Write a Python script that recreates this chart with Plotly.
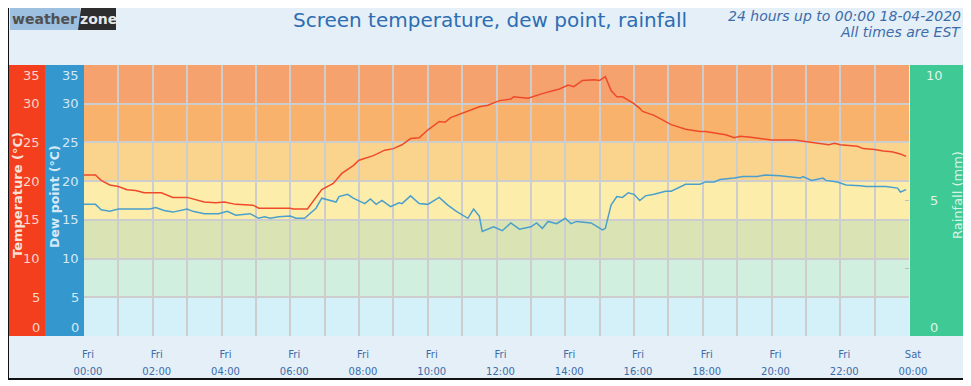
import plotly.graph_objects as go
import pandas as pd

# ---------------- data ----------------
DAY = "2020-04-17 "

temp_times = ["00:00", "00:20", "00:30", "00:45", "01:00", "01:15", "01:30", "01:45", "02:15", "02:35",
              "03:00", "03:30", "03:50", "04:05", "04:25", "04:55", "05:05", "06:00", "06:05", "06:30",
              "06:55", "07:15", "07:30", "07:50", "08:00", "08:25", "08:45", "09:00", "09:15", "09:30",
              "09:45", "10:00", "10:20", "10:30", "10:40", "11:00", "11:20", "11:30", "11:45", "12:05",
              "12:25", "12:30", "12:55", "13:10", "13:20", "13:40", "13:50", "14:05", "14:15", "14:30",
              "14:50", "15:00", "15:10", "15:20", "15:30", "15:40", "16:00", "16:10", "16:15", "16:35",
              "16:55", "17:05", "17:30", "17:55", "18:05", "18:30", "18:40", "18:55", "19:05", "19:20",
              "19:50", "20:00", "20:40", "21:00", "21:15", "21:40", "21:50", "22:00", "22:30", "22:40",
              "23:00", "23:15", "23:30", "23:45", "23:55"]
temp_values = [20.8, 20.8, 20.1, 19.5, 19.3, 18.9, 18.8, 18.5, 18.5, 17.9,
               17.9, 17.3, 17.2, 17.3, 17.0, 16.9, 16.5, 16.5, 16.4, 16.4,
               18.9, 19.7, 21.0, 22.0, 22.7, 23.3, 24.0, 24.2, 24.7, 25.5,
               25.6, 26.6, 27.7, 27.6, 28.2, 28.8, 29.4, 29.6, 29.8, 30.4,
               30.6, 30.9, 30.7, 31.1, 31.3, 31.7, 31.9, 32.4, 32.2, 33.0,
               33.1, 33.0, 33.5, 31.7, 30.9, 30.9, 30.0, 29.4, 29.0, 28.5,
               27.7, 27.3, 26.7, 26.4, 26.4, 26.1, 26.0, 25.6, 25.8, 25.7,
               25.4, 25.3, 25.3, 25.1, 24.9, 24.7, 24.9, 24.7, 24.5, 24.2,
               24.1, 23.9, 23.8, 23.5, 23.2]

dew_times = ["00:00", "00:20", "00:30", "00:45", "01:00", "01:55", "02:05", "02:20", "02:35", "03:00",
             "03:10", "03:30", "03:55", "04:10", "04:25", "04:50", "05:05", "05:15", "05:25", "05:40",
             "06:00", "06:10", "06:25", "06:45", "06:55", "07:20", "07:25", "07:40", "07:50", "08:10",
             "08:20", "08:30", "08:40", "08:55", "09:10", "09:15", "09:30", "09:45", "10:00", "10:05",
             "10:20", "10:35", "10:50", "11:10", "11:20", "11:30", "11:35", "11:55", "12:10", "12:25",
             "12:40", "13:00", "13:10", "13:20", "13:30", "13:45", "14:00", "14:10", "14:20", "14:45",
             "15:05", "15:10", "15:20", "15:30", "15:40", "15:50", "16:00", "16:10", "16:20", "16:35",
             "16:55", "17:05", "17:30", "17:55", "18:05", "18:20", "18:30", "18:55", "19:10", "19:35",
             "19:50", "20:15", "20:25", "20:50", "20:55", "21:10", "21:30", "21:35", "21:55", "22:10",
             "22:35", "22:45", "23:20", "23:40", "23:45", "23:55"]
dew_values = [17.0, 17.0, 16.3, 16.1, 16.4, 16.4, 16.6, 16.2, 16.0, 16.4,
              16.1, 15.8, 15.8, 16.1, 15.6, 15.8, 15.2, 15.4, 15.2, 15.4,
              15.5, 15.2, 15.2, 16.5, 17.8, 17.3, 18.0, 18.3, 17.8, 17.1,
              17.7, 17.0, 17.5, 16.7, 17.2, 17.1, 18.1, 17.1, 17.0, 17.2,
              17.9, 16.9, 16.1, 15.2, 16.4, 15.5, 13.5, 14.1, 13.6, 14.6,
              13.8, 14.1, 14.6, 13.9, 14.8, 14.5, 15.2, 14.5, 14.8, 14.6,
              13.7, 13.9, 16.9, 18.0, 17.9, 18.5, 18.3, 17.5, 18.1, 18.3,
              18.7, 18.7, 19.6, 19.6, 19.9, 19.9, 20.2, 20.4, 20.6, 20.6,
              20.8, 20.7, 20.6, 20.4, 20.6, 20.1, 20.4, 20.1, 19.9, 19.5,
              19.4, 19.3, 19.3, 19.1, 18.6, 18.9]

rain_times = []
rain_values = []

band_edges = [0, 5, 10, 15, 20, 25, 30, 35]
band_colors = ["#D4F1F9", "#D0EFDF", "#D9E3B4", "#FCEEAA", "#FAD38D", "#F8B26C", "#F6A26F"]

temp_ticks = [0, 5, 10, 15, 20, 25, 30, 35]
rain_ticks = [0, 5, 10]
rain_minor_ticks = [2.5, 5, 7.5]

x_tick_times = ["2020-04-17 00:00", "2020-04-17 02:00", "2020-04-17 04:00", "2020-04-17 06:00",
                "2020-04-17 08:00", "2020-04-17 10:00", "2020-04-17 12:00", "2020-04-17 14:00",
                "2020-04-17 16:00", "2020-04-17 18:00", "2020-04-17 20:00", "2020-04-17 22:00",
                "2020-04-18 00:00"]
x_tick_days = ["Fri"] * 12 + ["Sat"]
x_tick_clock = ["00:00", "02:00", "04:00", "06:00", "08:00", "10:00", "12:00", "14:00",
                "16:00", "18:00", "20:00", "22:00", "00:00"]
grid_hours = [t.strftime("%Y-%m-%d %H:%M") for t in
              pd.date_range("2020-04-17 00:00", "2020-04-18 00:00", freq="1h")]

title_text = "Screen temperature, dew point, rainfall"
sub1 = "24 hours up to 00:00 18-04-2020"
sub2 = "All times are EST"

# ---------------- geometry helpers (screen pixel coordinates) ----------------
OFF = 8                     # page body margin of the html document
FW, FH = 971 - OFF, 386 - OFF
L, R, T, B = 84, 909, 65, 336


def px(x):
    return (x - L) / (R - L)


def py(y):
    return (B - y) / (B - T)


FONT = "DejaVu Sans"
LABEL_BLUE = "#3D6CA9"


def note(text, x, y, size, color, xanchor="center", angle=0):
    return dict(text=text, x=px(x), y=py(y), xref="paper", yref="paper", xanchor=xanchor,
                yanchor="middle", textangle=angle, showarrow=False,
                font=dict(family=FONT, size=size, color=color))


fig = go.Figure()

fig.add_trace(go.Scatter(x=pd.to_datetime([DAY + t for t in temp_times]), y=temp_values,
                         mode="lines", line=dict(color="#EE4A2A", width=1.5), name="Temperature",
                         hoverinfo="x+y"))
fig.add_trace(go.Scatter(x=pd.to_datetime([DAY + t for t in dew_times]), y=dew_values,
                         mode="lines", line=dict(color="#4A9FCC", width=1.5), name="Dew point",
                         hoverinfo="x+y"))
fig.add_trace(go.Bar(x=pd.to_datetime([DAY + t for t in rain_times]), y=rain_values,
                     marker_color="#3EC993", name="Rainfall", xaxis="x2", yaxis="y2"))

shapes = []
shapes.append(dict(type="rect", xref="paper", yref="paper", x0=px(8), x1=px(966), y0=py(379), y1=py(5),
                   fillcolor="#E4EFF8", line=dict(color="#111111", width=2), layer="below"))
for i, c in enumerate(band_colors):
    shapes.append(dict(type="rect", xref="paper", yref="y", x0=0, x1=1, y0=band_edges[i], y1=band_edges[i + 1],
                       fillcolor=c, line=dict(width=0), layer="below"))
shapes.append(dict(type="rect", xref="paper", yref="paper", x0=px(9), x1=px(45), y0=0, y1=1,
                   fillcolor="#F33F1D", line=dict(width=0), layer="below"))
shapes.append(dict(type="rect", xref="paper", yref="paper", x0=px(45), x1=px(84), y0=0, y1=1,
                   fillcolor="#3498CF", line=dict(width=0), layer="below"))
shapes.append(dict(type="rect", xref="paper", yref="paper", x0=px(910), x1=px(965), y0=0, y1=1,
                   fillcolor="#3FC994", line=dict(width=0), layer="below"))
# logo
shapes.append(dict(type="rect", xref="paper", yref="paper", x0=px(10), x1=px(80), y0=py(30), y1=py(8),
                   fillcolor="#9DBFE0", line=dict(width=0), layer="above"))
shapes.append(dict(type="path", xref="paper", yref="paper",
                   path=f"M {px(78)} {py(30)} L {px(81)} {py(8)} L {px(116)} {py(8)} L {px(116)} {py(30)} Z",
                   fillcolor="#2E2E2E", line=dict(width=0), layer="above"))

annotations = [
    note("<b>weather</b>", 44, 19, 14, "#505050"),
    note("<b>zone</b>", 98, 19, 14, "#E8E8E8"),
    note(title_text, 490, 20, 20, "#2E6DB1"),
    note("<i>" + sub1 + "</i>", 963, 16, 14, LABEL_BLUE, xanchor="right"),
    note("<i>" + sub2 + "</i>", 963, 32, 14, LABEL_BLUE, xanchor="right"),
    note("<b>Temperature (°C)</b>", 17, 195, 13, "#FBE0D8", angle=-90),
    note("<b>Dew point (°C)</b>", 54, 197, 12.5, "#D6EAF6", angle=-90),
    note("Rainfall (mm)", 957, 195, 13, "#D8F3E8", angle=-90),
]
for v in temp_ticks:
    shift = 9 if v == temp_ticks[0] else (-10 if v == temp_ticks[-1] else 0)
    annotations.append(dict(text=str(v), x=px(42), y=v, xref="paper", yref="y", xanchor="right",
                            yanchor="middle", yshift=shift, showarrow=False,
                            font=dict(family=FONT, size=13, color="#FAD5CC")))
    annotations.append(dict(text=str(v), x=px(81), y=v, xref="paper", yref="y", xanchor="right",
                            yanchor="middle", yshift=shift, showarrow=False,
                            font=dict(family=FONT, size=13, color="#D3E8F5")))
for v in rain_ticks:
    shift = 9 if v == rain_ticks[0] else (-10 if v == rain_ticks[-1] else 0)
    annotations.append(dict(text=str(v), x=px(934), y=v, xref="paper", yref="y2", xanchor="center",
                            yanchor="middle", yshift=shift, showarrow=False,
                            font=dict(family=FONT, size=13, color="#DDF5EC")))

fig.update_layout(
    width=FW, height=FH,
    margin=dict(l=L - OFF, r=FW - (R - OFF), t=T - OFF, b=FH - (B - OFF), pad=0),
    paper_bgcolor="white", plot_bgcolor="rgba(0,0,0,0)",
    showlegend=False,
    shapes=shapes, annotations=annotations,
    xaxis=dict(type="date", range=["2020-04-17 00:00", "2020-04-18 00:00"], tickvals=x_tick_times,
               ticktext=x_tick_clock, showgrid=False, zeroline=False, showline=False, ticks="",
               ticklabelstandoff=28, ticklabelshift=4, automargin=False,
               tickfont=dict(family=FONT, size=10, color=LABEL_BLUE),
               minor=dict(tickvals=grid_hours, showgrid=True, gridcolor="#CDCDCD", gridwidth=2)),
    xaxis2=dict(type="date", range=["2020-04-17 00:00", "2020-04-18 00:00"], overlaying="x", side="bottom",
                anchor="y", tickvals=x_tick_times, ticktext=x_tick_days, showgrid=False, zeroline=False,
                ticks="", ticklabelstandoff=11, ticklabelshift=4, automargin=False,
                tickfont=dict(family=FONT, size=10, color=LABEL_BLUE)),
    yaxis=dict(range=[0, 35], tickvals=temp_ticks, showticklabels=False, showgrid=True, automargin=False,
               gridcolor="#CDCDCD", gridwidth=2, zeroline=False, showline=False, ticks=""),
    yaxis2=dict(range=[0, 10], overlaying="y", side="right", anchor="x", tickvals=rain_minor_ticks,
                showticklabels=False, ticks="inside", ticklen=4, tickcolor="#BDBDBD", tickwidth=1,
                showgrid=False, zeroline=False, showline=False, automargin=False),
)

fig.write_html("out.html")
